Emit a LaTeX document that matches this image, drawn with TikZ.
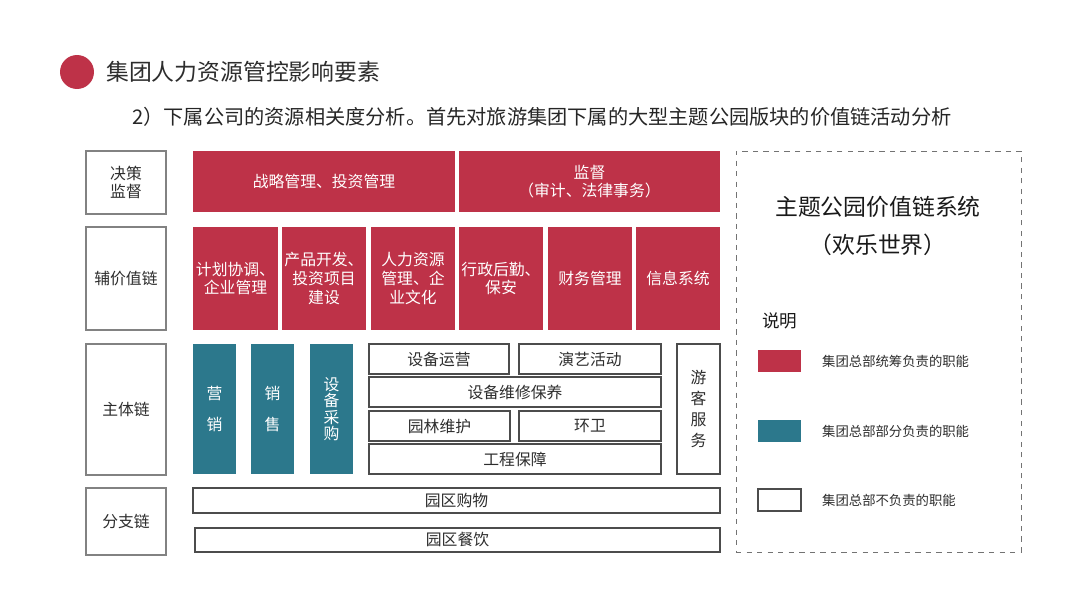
\documentclass[tikz,border=0pt]{standalone}
\usepackage{fontspec}
\setmainfont{Noto Sans CJK SC}

\definecolor{parkred}{RGB}{190,50,72}
\definecolor{parkteal}{RGB}{44,120,140}
\definecolor{framegray}{RGB}{130,130,130}
\definecolor{textgray}{RGB}{45,45,45}

\begin{document}
\begin{tikzpicture}[
  x=0.02cm, y=-0.02cm,
  lbox/.style  = {draw=framegray, line width=0.6pt, fill=white, inner sep=0pt,
                  minimum width=1.6cm, align=center, text=textgray,
                  font=\fontsize{9}{10.7}\selectfont},
  rbox/.style  = {fill=parkred, inner sep=0pt, align=center, text=white,
                  font=\fontsize{9}{10.6}\selectfont},
  tbox/.style  = {fill=parkteal, inner sep=0pt, minimum width=0.86cm,
                  minimum height=2.6cm, align=center, text=white,
                  font=\fontsize{9}{9.4}\selectfont},
  wbox/.style  = {draw=black!70, line width=0.8pt, fill=white, inner sep=0pt,
                  minimum height=0.6cm, align=center, text=textgray,
                  font=\fontsize{9}{12}\selectfont},
  swatch/.style = {inner sep=0pt, minimum width=0.86cm, minimum height=0.44cm},
  legtxt/.style = {anchor=west, text=textgray, font=\fontsize{7.6}{9}\selectfont},
]
\useasboundingbox (0,0) rectangle (1080,608);

% heading
\node[circle, fill=parkred, inner sep=0pt, minimum size=0.68cm] (dot) at (77,72) {};
\node[anchor=west, text=textgray, font=\fontsize{13}{15}\selectfont]
  (title) at (100,72) {集团人力资源管控影响要素};
\node[anchor=west, text=black!85, font=\fontsize{11.5}{13}\selectfont]
  (sub) at (126,117)
  {2）下属公司的资源相关度分析。首先对旅游集团下属的大型主题公园版块的价值链活动分析};

% row labels
\node[lbox, minimum height=1.26cm] (lab1) at (126,182.5) {决策\\监督};
\node[lbox, minimum height=2.06cm] (lab2) at (126,278.5) {辅价值链};
\node[lbox, minimum height=2.62cm] (lab3) at (126,409.5) {主体链};
\node[lbox, minimum height=1.34cm] (lab4) at (126,521.5) {分支链};

% decision and supervision
\node[rbox, minimum width=5.24cm, minimum height=1.22cm] (strat) at (324,181.5)
  {战略管理、投资管理};
\node[rbox, minimum width=5.22cm, minimum height=1.22cm] (audit) at (589.5,181.5)
  {监督\\（审计、法律事务）};

% supporting value chain
\begin{scope}[every node/.append style={minimum width=1.68cm, minimum height=2.06cm}]
  \node[rbox, minimum width=1.7cm] (plan) at (235.5,278.5) {计划协调、\\企业管理};
  \node[rbox] (prod)  at (324,278.5) {产品开发、\\投资项目\\建设};
  \node[rbox] (hr)    at (413,278.5) {人力资源\\管理、企\\业文化};
  \node[rbox] (admin) at (501,278.5) {行政后勤、\\保安};
  \node[rbox] (fin)   at (590,278.5) {财务管理};
  \node[rbox] (info)  at (678,278.5) {信息系统};
\end{scope}

% main chain
\node[tbox, font=\fontsize{9}{18}\selectfont] (mkt)  at (214.5,409) {营\\销};
\node[tbox, font=\fontsize{9}{18}\selectfont] (sale) at (272.5,409) {销\\售};
\node[tbox] (buy) at (331.5,409) {设\\备\\采\\购};
\node[wbox, minimum width=2.8cm]  (ops)    at (439,359)   {设备运营};
\node[wbox, minimum width=2.84cm] (show)   at (590,359)   {演艺活动};
\node[wbox, minimum width=5.84cm] (maint)  at (515,392)   {设备维修保养};
\node[wbox, minimum width=2.82cm] (garden) at (439.5,426) {园林维护};
\node[wbox, minimum width=2.84cm] (clean)  at (590,426)   {环卫};
\node[wbox, minimum width=5.84cm] (eng)    at (515,459)   {工程保障};
\node[wbox, minimum width=0.86cm, minimum height=2.6cm,
      font=\fontsize{9}{12}\selectfont] (guest) at (698.5,409) {游\\客\\服\\务};

% branch chain
\node[wbox, minimum width=10.54cm, minimum height=0.5cm] (shop) at (456.5,500.5) {园区购物};
\node[wbox, minimum width=10.5cm, minimum height=0.48cm]  (food) at (457.5,540)   {园区餐饮};

% legend panel
\node[draw=black!55, dashed, inner sep=0pt, minimum width=5.7cm,
      minimum height=8.02cm] (panel) at (878.5,351.5) {};
\node[text=black!90, font=\fontsize{13}{15}\selectfont] (ptitle) at (878,207) {主题公园价值链系统};
\node[text=black!90, font=\fontsize{13}{15}\selectfont] (pname)  at (878,245) {（欢乐世界）};
\node[anchor=west, text=black!90, font=\fontsize{10}{12}\selectfont] (note) at (756,321) {说明};

\node[swatch, fill=parkred]  (swred)  at (779.5,361) {};
\node[swatch, fill=parkteal] (swteal) at (779.5,431) {};
\node[swatch, draw=black!70, line width=0.8pt] (swwhite) at (779.5,500) {};
\node[legtxt] (lgred)   at (816,361) {集团总部统筹负责的职能};
\node[legtxt] (lgteal)  at (816,431) {集团总部部分负责的职能};
\node[legtxt] (lgwhite) at (816,500) {集团总部不负责的职能};

\end{tikzpicture}
\end{document}
